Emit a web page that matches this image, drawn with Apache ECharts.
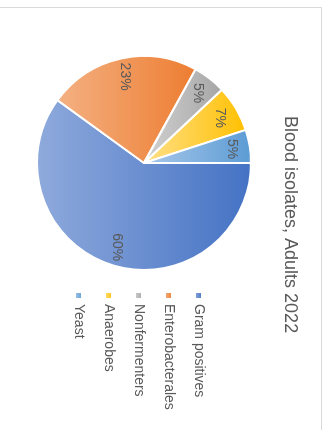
<!DOCTYPE html>
<html>
<head>
<meta charset="utf-8">
<script src="https://cdn.jsdelivr.net/npm/echarts@6/dist/echarts.min.js"></script>
<style>
html,body{margin:0;padding:0;background:#fff;overflow:hidden;width:327px;height:430px;}
#wrap{position:absolute;left:0;top:0;width:430px;height:327px;transform-origin:0 0;transform:translate(327px,0) rotate(90deg);}
#chart{width:430px;height:327px;}
</style>
</head>
<body>
<div id="wrap"><div id="chart"></div></div>
<script>
const titleText = 'Blood isolates, Adults 2022';
const categories = ['Gram positives', 'Enterobacterales', 'Nonfermenters', 'Anaerobes', 'Yeast'];
const values = [60, 23, 5, 7, 5];
const darkColors = ['#4472C4', '#ED7D31', '#A5A5A5', '#FFC000', '#5B9BD5'];
const lightColors = ['#8FAADC', '#F4B183', '#D2D2D2', '#FFE08A', '#A9C8EA'];

const chart = echarts.init(document.getElementById('chart'), null, {renderer: 'canvas'});
const grad = (i) => new echarts.graphic.LinearGradient(0, 0, 0, 1, [
  {offset: 0, color: darkColors[i]},
  {offset: 1, color: lightColors[i]}
]);
const pieData = categories.map((c, i) => ({name: c, value: values[i], itemStyle: {color: grad(i)}}));
const labelData = categories.map((c, i) => ({name: c, value: values[i]}));
const font = '"Liberation Sans", Arial, sans-serif';

chart.setOption({
  animation: false,
  backgroundColor: '#fff',
  title: {
    text: titleText,
    left: 111,
    top: 23,
    textStyle: {fontFamily: font, fontSize: 18, fontWeight: 'normal', color: '#595959'}
  },
  legend: {
    orient: 'vertical',
    left: 286,
    top: 116,
    itemWidth: 7,
    itemHeight: 7,
    itemGap: 15,
    icon: 'rect',
    data: categories,
    textStyle: {fontFamily: font, fontSize: 14, color: '#595959', lineHeight: 15, padding: [0, 0, 0, 0]},
    selectedMode: false
  },
  graphic: [{
    type: 'rect',
    shape: {x: 7.5, y: 5.5, width: 600, height: 600},
    style: {fill: 'none', stroke: '#d9d9d9', lineWidth: 1},
    silent: true,
    z: -1
  }],
  series: [{
    type: 'pie',
    center: [163, 183],
    radius: [0, 107],
    startAngle: 90,
    clockwise: true,
    avoidLabelOverlap: false,
    label: {show: false},
    labelLine: {show: false},
    itemStyle: {borderColor: '#ffffff', borderWidth: 2},
    data: pieData
  }, {
    type: 'pie',
    center: [163, 183],
    radius: [0, 171],
    startAngle: 90,
    clockwise: true,
    silent: true,
    avoidLabelOverlap: false,
    itemStyle: {color: 'rgba(0,0,0,0)', borderWidth: 0},
    emphasis: {disabled: true},
    label: {
      show: true,
      position: 'inside',
      formatter: (p) => p.value + '%',
      fontFamily: font,
      fontSize: 14,
      color: '#595959'
    },
    labelLine: {show: false},
    data: labelData
  }]
});
</script>
</body>
</html>
